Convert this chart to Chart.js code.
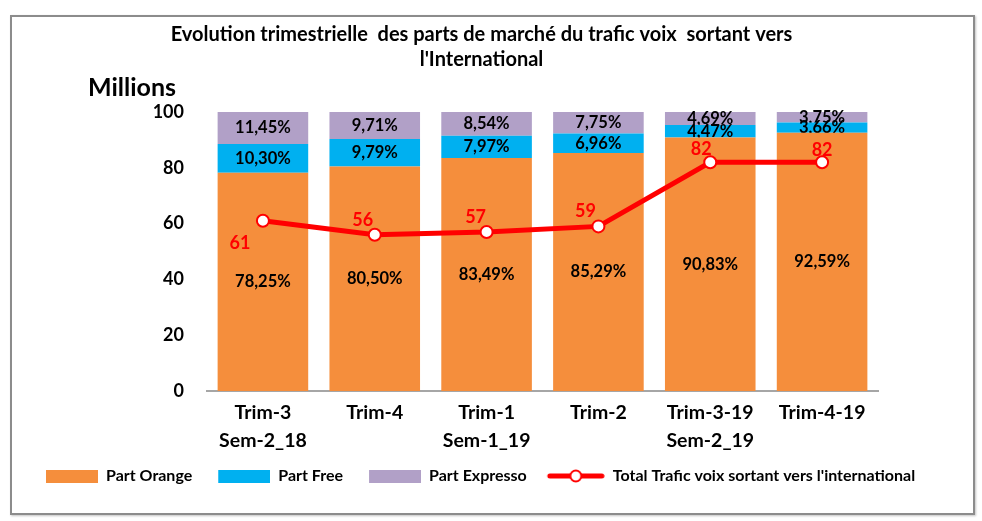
<!DOCTYPE html>
<html><head><meta charset="utf-8">
<script src="https://cdn.jsdelivr.net/npm/chart.js@4/dist/chart.umd.min.js"></script>
<style>
html,body{margin:0;padding:0;background:#fff;}
#box{position:absolute;left:10px;top:15px;width:961px;height:496px;border:2px solid #8c8c8c;box-shadow:1px 1px 2px #c4c4c4;background:#fff;}
canvas{display:block;}
</style></head><body>
<div id="box"><canvas id="c" width="961" height="496"></canvas></div>
<script>
// ---- data ----
const categories = [["Trim-3","Sem-2_18"],"Trim-4",["Trim-1","Sem-1_19"],"Trim-2",["Trim-3-19","Sem-2_19"],"Trim-4-19"];
const partOrange = [78.25, 80.50, 83.49, 85.29, 90.83, 92.59];
const partFree = [10.30, 9.79, 7.97, 6.96, 4.47, 3.66];
const partExpresso = [11.45, 9.71, 8.54, 7.75, 4.69, 3.75];
const totalTrafic = [61, 56, 57, 59, 82, 82];
const seriesNames = ["Part Orange", "Part Free", "Part Expresso", "Total Trafic voix sortant vers l'international"];
const titleLines = ["Evolution trimestrielle  des parts de marché du trafic voix  sortant vers", "l'International"];
const yAxisUnit = "Millions";

// ---- style ----
const FONT = "Lato, 'Liberation Sans', sans-serif";
const C_ORANGE = '#F58E3C', C_FREE = '#00B0F0', C_EXP = '#B1A0C7', C_RED = '#FF0000';
const lineLabelOffsets = [[-23,22],[-12,-15],[-11,-15],[-13,-15],[-9,-13],[0,-12]];
const ICON_W = 62;

function boxIcon(color){
  const c = document.createElement('canvas'); c.width = ICON_W; c.height = 13;
  const x = c.getContext('2d'); x.fillStyle = color; x.fillRect(10,0,52,13); return c;
}
function lineIcon(){
  const c = document.createElement('canvas'); c.width = ICON_W; c.height = 16;
  const x = c.getContext('2d');
  x.strokeStyle = C_RED; x.lineWidth = 5; x.lineCap = 'round';
  x.beginPath(); x.moveTo(7,8); x.lineTo(59,8); x.stroke();
  x.beginPath(); x.arc(33,8,5.5,0,Math.PI*2); x.fillStyle = '#fff'; x.fill();
  x.lineWidth = 2; x.stroke();
  return c;
}
const icons = [boxIcon(C_ORANGE), boxIcon(C_FREE), boxIcon(C_EXP), lineIcon()];

const pct = v => v.toFixed(2).replace('.', ',') + '%';

const labelPlugin = {
  id: 'labelPlugin',
  afterDatasetDraw(chart, args) {
    const ds = chart.data.datasets[args.index];
    if (ds.type !== 'bar') return;
    const ctx = chart.ctx;
    ctx.save();
    ctx.font = "bold 16.5px " + FONT;
    ctx.fillStyle = '#000';
    ctx.textAlign = 'center'; ctx.textBaseline = 'middle';
    args.meta.data.forEach((el, i) => {
      ctx.fillText(pct(ds.data[i]), el.x, (el.y + el.base) / 2);
    });
    ctx.restore();
  },
  afterDatasetsDraw(chart) {
    const ctx = chart.ctx;
    ctx.save();
    chart.data.datasets.forEach((ds, di) => {
      if (ds.type !== 'line') return;
      const meta = chart.getDatasetMeta(di);
      ctx.font = "bold 18px " + FONT;
      ctx.fillStyle = C_RED;
      ctx.textAlign = 'center'; ctx.textBaseline = 'middle';
      meta.data.forEach((el, i) => {
        const o = lineLabelOffsets[i];
        ctx.fillText(String(ds.data[i]), el.x + o[0], el.y + o[1]);
      });
    });
    ctx.font = "bold 25px " + FONT;
    ctx.fillStyle = '#000';
    ctx.textAlign = 'left'; ctx.textBaseline = 'middle';
    ctx.fillText(yAxisUnit, 76, 71);
    ctx.restore();
  }
};

new Chart(document.getElementById('c'), {
  data: {
    labels: categories,
    datasets: [
      { type: 'line', label: seriesNames[3], data: totalTrafic, borderColor: C_RED, borderWidth: 5,
        pointRadius: 6, pointBorderWidth: 2, pointBackgroundColor: '#fff', pointBorderColor: C_RED,
        tension: 0, order: 0, yAxisID: 'y' },
      { type: 'bar', label: seriesNames[0], data: partOrange, backgroundColor: C_ORANGE, stack: 's', order: 1 },
      { type: 'bar', label: seriesNames[1], data: partFree, backgroundColor: C_FREE, stack: 's', order: 1 },
      { type: 'bar', label: seriesNames[2], data: partExpresso, backgroundColor: C_EXP, stack: 's', order: 1 }
    ]
  },
  options: {
    responsive: false,
    animation: false,
    layout: { padding: { left: 8, right: 30, top: 0, bottom: 19 } },
    datasets: { bar: { categoryPercentage: 0.81, barPercentage: 1 } },
    plugins: {
      tooltip: { enabled: false },
      title: { display: true, text: titleLines, color: '#000',
        font: { family: FONT, size: 20, weight: 'bold', lineHeight: 1.25 },
        padding: { top: 5, bottom: 40 } },
      legend: {
        position: 'bottom', align: 'start',
        labels: {
          usePointStyle: true, pointStyleWidth: ICON_W, padding: 16, color: '#000',
          font: { family: FONT, size: 16, weight: 'bold' },
          generateLabels: (chart) => [1,2,3,0].map((di, k) => ({
            text: chart.data.datasets[di].label, pointStyle: icons[k], datasetIndex: di,
            fillStyle: 'transparent', strokeStyle: 'transparent', lineWidth: 0, hidden: false
          }))
        }
      }
    },
    scales: {
      x: { stacked: true,
        grid: { display: false },
        border: { display: true, color: '#A6A6A6', width: 2 },
        ticks: { color: '#000', padding: 0, maxRotation: 0, autoSkip: false,
          font: { family: FONT, size: 19.5, weight: 'bold', lineHeight: 1.44 } },
        afterFit: s => { s.height = 61; } },
      y: { stacked: true, min: 0, max: 100,
        grid: { display: false }, border: { display: false },
        ticks: { stepSize: 20, color: '#000', padding: 15,
          font: { family: FONT, size: 18, weight: 'bold' } },
        afterFit: s => { s.width = 187; } },
      y2: { position: 'right', display: true,
        grid: { display: false }, border: { display: false },
        ticks: { display: false },
        afterFit: s => { s.width = 65; } }
    }
  },
  plugins: [labelPlugin]
});
</script>
</body></html>
